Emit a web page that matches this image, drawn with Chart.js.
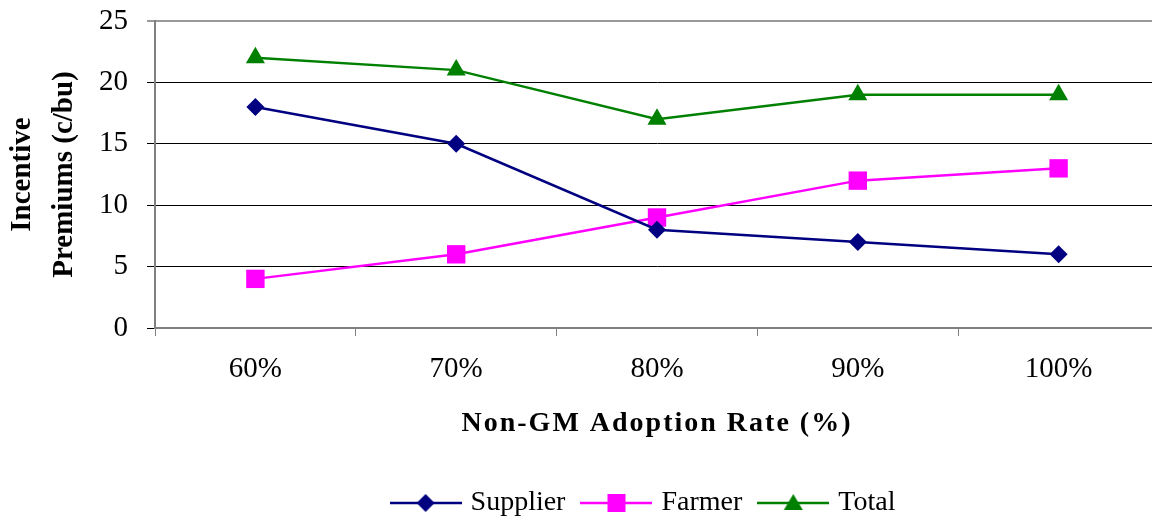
<!DOCTYPE html>
<html>
<head>
<meta charset="utf-8">
<script src="https://cdn.jsdelivr.net/npm/chart.js@4/dist/chart.umd.min.js"></script>
<style>
  body { margin: 0; overflow: hidden; background: #fff; }
  canvas { display: block; }
</style>
</head>
<body>
<canvas id="graphique" width="1172" height="519"></canvas>
<script>
// Données du graphique
const categories = ["60%", "70%", "80%", "90%", "100%"];
const fournisseur = [18, 15, 8, 7, 6];
const agriculteur = [4, 6, 9, 12, 13];
const total = [22, 21, 17, 19, 19];
const nomsSeries = ["Supplier", "Farmer", "Total"];

const couleurs = ["#000080", "#FF00FF", "#008000"];
const police = "'Liberation Serif', 'Times New Roman', serif";

Chart.defaults.color = "#000";
Chart.defaults.font.family = police;

// Petite image "trait + marqueur" pour chaque entrée de la légende
function imageLegende(couleur, forme) {
  const c = document.createElement("canvas");
  c.width = 72;
  c.height = 24;
  const ctx = c.getContext("2d");
  ctx.strokeStyle = couleur;
  ctx.fillStyle = couleur;
  ctx.lineWidth = 2.5;
  ctx.beginPath();
  ctx.moveTo(0, 12);
  ctx.lineTo(72, 12);
  ctx.stroke();
  ctx.beginPath();
  if (forme === "losange") {
    ctx.moveTo(36, 3); ctx.lineTo(45, 12); ctx.lineTo(36, 21); ctx.lineTo(27, 12);
  } else if (forme === "carre") {
    ctx.rect(27, 3, 18, 18);
  } else {
    ctx.moveTo(36, 3); ctx.lineTo(45.5, 19); ctx.lineTo(26.5, 19);
  }
  ctx.closePath();
  ctx.fill();
  return c;
}
const imagesLegende = [
  imageLegende(couleurs[0], "losange"),
  imageLegende(couleurs[1], "carre"),
  imageLegende(couleurs[2], "triangle")
];

const data = {
  labels: categories,
  datasets: [
    {
      label: nomsSeries[0],
      data: fournisseur,
      borderColor: couleurs[0],
      backgroundColor: couleurs[0],
      pointStyle: "rectRot",
      pointRadius: 9,
    },
    {
      label: nomsSeries[1],
      data: agriculteur,
      borderColor: couleurs[1],
      backgroundColor: couleurs[1],
      pointStyle: "rect",
      pointRadius: 13,
    },
    {
      label: nomsSeries[2],
      data: total,
      borderColor: couleurs[2],
      backgroundColor: couleurs[2],
      pointStyle: "triangle",
      pointRadius: 11,
    },
  ],
};

for (const serie of data.datasets) {
  serie.borderWidth = 2.5;
  serie.pointBorderWidth = 0;
  serie.pointHoverRadius = serie.pointRadius;
  serie.tension = 0;
}

// Décale la légende un peu vers la gauche
const decalageLegende = {
  id: "decalageLegende",
  afterLayout(chart) {
    chart.legend.left -= 12;
    chart.legend.right -= 12;
  },
};

const config = {
  type: "line",
  data: data,
  plugins: [decalageLegende],
  options: {
    responsive: false,
    animation: false,
    layout: { padding: { top: 21, right: 0, bottom: -8, left: 0 } },
    plugins: {
      tooltip: { enabled: false },
      legend: {
        position: "bottom",
        fullSize: false,
        labels: {
          usePointStyle: true,
          pointStyleWidth: 62,
          padding: 20,
          font: { size: 28 },
          generateLabels: (chart) => chart.data.datasets.map((ds, i) => ({
            text: ds.label,
            pointStyle: imagesLegende[i],
            datasetIndex: i,
            hidden: false,
            fontColor: "#000",
            lineWidth: 0,
          })),
        },
      },
    },
    scales: {
      x: {
        offset: true,
        grid: {
          offset: true,
          drawOnChartArea: false,
          tickLength: 8,
          color: "#808080",
        },
        border: { color: "#808080", width: 2 },
        ticks: { font: { size: 29 }, padding: 16, maxRotation: 0 },
        title: {
          display: true,
          text: "Non-GM Adoption Rate (%)",
          font: { size: 28, weight: "bold" },
          padding: { top: 0, bottom: 28 },
        },
        afterFit: (echelle) => { echelle.height = 141; },
      },
      y: {
        min: 0,
        max: 25,
        grid: {
          tickLength: 8,
          color: (c) => (c.tick.value === 25 ? "#999999" : "#000"),
          lineWidth: (c) => (c.tick.value === 25 ? 2 : 1),
        },
        border: { color: "#808080", width: 2 },
        ticks: { stepSize: 5, font: { size: 29 }, padding: 19 },
        title: {
          display: true,
          text: ["Incentive", "Premiums (c/bu)"],
          font: { size: 29, weight: "bold", lineHeight: 1.45 },
          padding: { top: 1, bottom: 0 },
        },
        afterFit: (echelle) => {
          echelle.width = 155;
          echelle.paddingTop = 0;
          echelle.paddingBottom = 0;
        },
      },
    },
  },
};

const graphique = new Chart(document.querySelector("#graphique"), config);

// Titre de l'axe X légèrement espacé
const echelleX = graphique.scales.x;
const dessinTitre = echelleX.drawTitle.bind(echelleX);
echelleX.drawTitle = function () {
  const ctx = graphique.ctx;
  ctx.letterSpacing = "2px";
  dessinTitre();
  ctx.letterSpacing = "0px";
};
graphique.draw();
</script>
</body>
</html>
